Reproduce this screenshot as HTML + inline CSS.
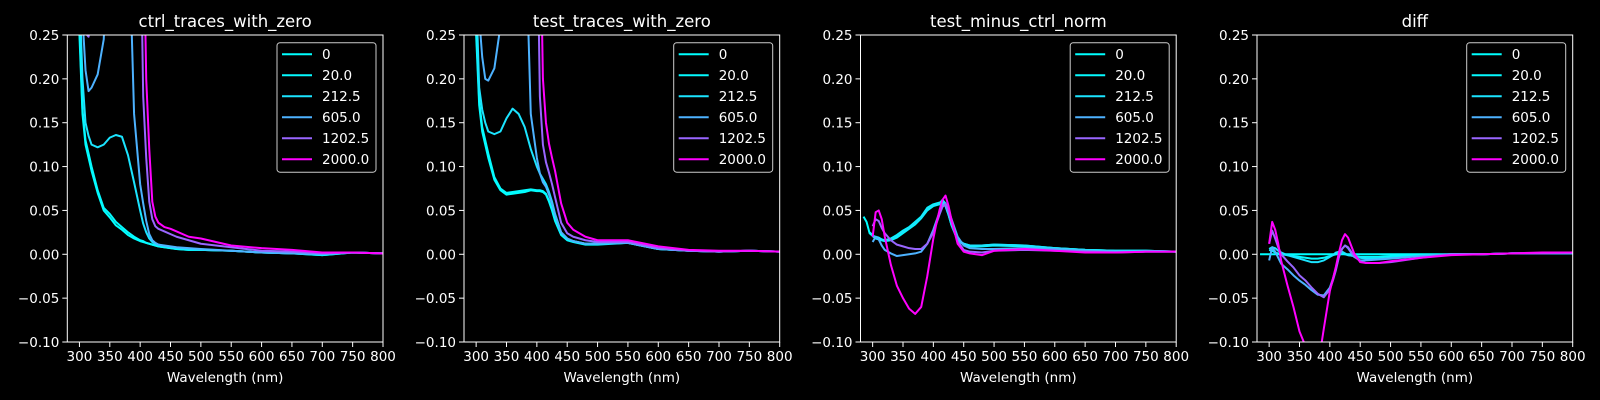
<!DOCTYPE html>
<html><head><meta charset="utf-8">
<style>
html,body{margin:0;padding:0;background:#000;}
svg{display:block;font-family:"DejaVu Sans","Liberation Sans",sans-serif;}
</style></head>
<body>
<svg id="fig" width="1600" height="400" viewBox="0 0 1600 400" xmlns="http://www.w3.org/2000/svg">
<rect width="1600" height="400" fill="#000"/>
</svg>
<script>
const titles = ["ctrl_traces_with_zero","test_traces_with_zero","test_minus_ctrl_norm","diff"];
const seriesLabels = ["0","20.0","212.5","605.0","1202.5","2000.0"];
const seriesColors = ["#00ffff","#05faff","#1be4ff","#4db2ff","#9966ff","#ff00ff"];
const xTicks = [300,350,400,450,500,550,600,650,700,750,800];
const yTicks = [-0.10,-0.05,0.00,0.05,0.10,0.15,0.20,0.25];
const wl = [285,290,295,300,305,310,315,320,330,340,350,360,370,380,390,400,405,410,415,420,425,430,440,450,460,480,500,550,600,650,700,750,800];
const n = null;
const ctrl = [
 [n,0.5,0.4,0.25,0.16,0.125,0.11,0.095,0.07,0.05,0.042,0.033,0.028,0.022,0.018,0.015,0.014,0.013,0.012,0.011,0.010,0.009,0.008,0.007,0.006,0.005,0.005,0.004,0.002,0.001,-0.001,0.002,0.001],
 [n,0.5,0.4,0.26,0.165,0.13,0.115,0.1,0.073,0.053,0.046,0.037,0.031,0.025,0.02,0.016,0.015,0.013,0.012,0.011,0.010,0.009,0.008,0.007,0.006,0.005,0.005,0.004,0.002,0.001,-0.001,0.002,0.001],
 [n,0.5,0.4,0.3,0.2,0.15,0.135,0.125,0.122,0.125,0.133,0.136,0.134,0.113,0.082,0.05,0.035,0.025,0.018,0.014,0.012,0.011,0.009,0.008,0.007,0.006,0.005,0.004,0.002,0.001,0,0.002,0.001],
 [n,0.5,0.4,0.33,0.27,0.21,0.186,0.19,0.205,0.245,0.4,0.4,0.4,0.4,0.16,0.08,0.058,0.038,0.023,0.016,0.013,0.011,0.01,0.009,0.008,0.007,0.006,0.004,0.002,0.001,0,0.002,0.001],
 [n,0.5,0.4,0.4,0.3,0.252,0.248,0.27,0.4,0.4,0.4,0.4,0.4,0.4,0.4,0.4,0.18,0.11,0.06,0.04,0.032,0.029,0.026,0.023,0.02,0.016,0.012,0.008,0.004,0.003,0.001,0.002,0.001],
 [n,0.5,0.4,0.4,0.4,0.4,0.4,0.4,0.4,0.4,0.4,0.4,0.4,0.4,0.4,0.4,0.4,0.2,0.12,0.06,0.043,0.036,0.031,0.029,0.026,0.02,0.018,0.01,0.007,0.005,0.002,0.002,0.001]
];
const test = [
 [n,0.5,0.4,0.25,0.17,0.14,0.125,0.11,0.085,0.073,0.068,0.069,0.07,0.071,0.073,0.072,0.072,0.071,0.068,0.06,0.05,0.038,0.022,0.016,0.014,0.011,0.011,0.013,0.006,0.004,0.003,0.004,0.003],
 [n,0.5,0.4,0.26,0.175,0.145,0.13,0.115,0.088,0.075,0.07,0.071,0.072,0.073,0.074,0.073,0.073,0.072,0.069,0.061,0.051,0.039,0.023,0.017,0.015,0.012,0.012,0.013,0.006,0.004,0.003,0.004,0.003],
 [n,0.5,0.4,0.3,0.19,0.165,0.15,0.14,0.137,0.14,0.155,0.166,0.16,0.145,0.12,0.1,0.092,0.086,0.08,0.071,0.06,0.046,0.025,0.018,0.015,0.012,0.012,0.013,0.006,0.004,0.003,0.004,0.003],
 [n,0.5,0.4,0.35,0.27,0.225,0.2,0.198,0.212,0.26,0.4,0.4,0.4,0.4,0.16,0.11,0.092,0.082,0.077,0.068,0.058,0.045,0.025,0.018,0.015,0.012,0.012,0.013,0.006,0.004,0.003,0.004,0.003],
 [n,0.5,0.4,0.4,0.4,0.4,0.4,0.4,0.4,0.4,0.4,0.4,0.4,0.4,0.4,0.4,0.18,0.125,0.105,0.093,0.08,0.065,0.036,0.024,0.02,0.016,0.014,0.014,0.007,0.004,0.003,0.004,0.003],
 [n,0.5,0.4,0.4,0.4,0.4,0.4,0.4,0.4,0.4,0.4,0.4,0.4,0.4,0.4,0.4,0.4,0.2,0.15,0.126,0.11,0.095,0.058,0.036,0.028,0.02,0.016,0.016,0.009,0.005,0.004,0.004,0.003]
];
const norm = [
 [0.043,0.037,0.024,0.021,0.018,0.017,0.016,0.016,0.018,0.022,0.027,0.031,0.037,0.043,0.053,0.057,0.058,0.059,0.06,0.055,0.045,0.033,0.016,0.012,0.01,0.01,0.011,0.01,0.007,0.005,0.004,0.004,0.003],
 [n,n,0.025,0.022,0.019,0.018,0.016,0.015,0.016,0.019,0.024,0.029,0.034,0.041,0.05,0.055,0.056,0.057,0.058,0.055,0.045,0.033,0.016,0.011,0.009,0.009,0.01,0.009,0.007,0.005,0.004,0.004,0.003],
 [n,n,n,0.02,0.02,0.019,0.017,0.016,0.017,0.021,0.026,0.03,0.036,0.042,0.052,0.056,0.057,0.058,0.062,0.058,0.046,0.034,0.017,0.012,0.01,0.01,0.011,0.01,0.007,0.005,0.004,0.004,0.003],
 [n,n,n,0.014,0.02,0.017,0.01,0.005,0.001,-0.002,-0.001,0,0.001,0.003,0.012,0.028,0.038,0.048,0.056,0.058,0.05,0.04,0.02,0.01,0.007,0.006,0.006,0.007,0.006,0.004,0.003,0.003,0.003],
 [n,n,n,0.032,0.04,0.038,0.03,0.024,0.016,0.011,0.009,0.007,0.006,0.006,0.012,0.025,0.035,0.045,0.054,0.057,0.048,0.036,0.015,0.005,0.003,0.002,0.004,0.005,0.004,0.003,0.002,0.003,0.003],
 [n,n,n,0.02,0.048,0.05,0.04,0.02,-0.012,-0.036,-0.05,-0.062,-0.068,-0.06,-0.025,0.018,0.035,0.05,0.062,0.067,0.055,0.039,0.012,0.003,0.001,-0.001,0.004,0.006,0.004,0.002,0.002,0.003,0.003]
];
const diff = [
 [0,0,0,0,0,0,0,0,0,0,0,0,0,0,0,0,0,0,0,0,0,0,0,0,0,0,0,0,0,0,0.001,0.001,0.001],
 [n,n,n,0.005,0.004,0.002,0.001,0,-0.001,-0.002,-0.003,-0.004,-0.005,-0.005,-0.004,-0.002,-0.001,0,0.001,0.001,0,-0.001,-0.002,-0.003,-0.003,-0.003,-0.002,-0.001,0,0,0.001,0.001,0.001],
 [n,n,n,0.006,0.008,0.007,0.004,0.002,-0.001,-0.003,-0.005,-0.007,-0.009,-0.009,-0.007,-0.003,-0.001,0.002,0.003,0.003,0.001,-0.001,-0.002,-0.004,-0.005,-0.005,-0.004,-0.002,0,0,0.001,0.001,0.001],
 [n,n,n,-0.007,0.008,0.003,-0.004,-0.011,-0.017,-0.024,-0.03,-0.035,-0.041,-0.046,-0.047,-0.038,-0.028,-0.016,-0.002,0.006,0.01,0.007,-0.003,-0.007,-0.007,-0.006,-0.005,-0.002,0,0,0.001,0.001,0.001],
 [n,n,n,0.012,0.027,0.018,0.008,0,-0.008,-0.015,-0.024,-0.03,-0.038,-0.045,-0.049,-0.04,-0.03,-0.018,-0.003,0.006,0.01,0.008,-0.002,-0.008,-0.01,-0.01,-0.009,-0.004,0,0,0.001,0.001,0.002],
 [n,n,n,0.012,0.037,0.028,0.012,-0.008,-0.035,-0.06,-0.088,-0.105,-0.13,-0.13,-0.085,-0.042,-0.028,-0.014,0.002,0.016,0.023,0.019,0.001,-0.009,-0.01,-0.01,-0.008,-0.004,-0.001,0,0.001,0.002,0.002]
];
const panelData = [ctrl, test, norm, diff];

const NS = "http://www.w3.org/2000/svg";
const svg = document.getElementById("fig");
const lefts = [67.3, 464, 860.5, 1257];
const W = 315.7, TOP = 35, BOT = 342;
const XMIN = 280, XMAX = 800, YMIN = -0.1, YMAX = 0.25;
function mk(tag, attrs, parent){ const e=document.createElementNS(NS,tag); for(const k in attrs) e.setAttribute(k,attrs[k]); (parent||svg).appendChild(e); return e; }
function fmt(v){ const s=Math.abs(v).toFixed(2); return (v< -1e-9?"\u2212":"")+s; }

panelData.forEach((series, p) => {
  const L = lefts[p], R = L + W;
  const xs = v => L + (v - XMIN) / (XMAX - XMIN) * W;
  const ys = v => BOT - (v - YMIN) / (YMAX - YMIN) * (BOT - TOP);
  const g = mk("g", {});
  
  
  const cp = mk("clipPath", {id: "clip"+p}, g);
  mk("rect", {x: L, y: TOP, width: W, height: BOT-TOP}, cp);
  const sg = mk("g", {"clip-path": "url(#clip"+p+")"}, g);
  series.forEach((vals, s) => {
    let d = "", pen = false;
    vals.forEach((v, i) => {
      if (v === null) { pen = false; return; }
      d += (pen ? "L" : "M") + xs(wl[i]).toFixed(2) + "," + ys(v).toFixed(2);
      pen = true;
    });
    const path = mk("path", {d: d, fill: "none", stroke: seriesColors[s], "stroke-width": 2, "stroke-linejoin": "round"}, sg);
    
    
  });
  const sp = mk("rect", {x: L, y: TOP, width: W, height: BOT-TOP, fill: "none", stroke: "#fff", "stroke-width": 1}, g);
  
  
  xTicks.forEach(t => {
    const x = xs(t);
    mk("line", {x1: x, x2: x, y1: BOT, y2: BOT+5, stroke: "#fff", "stroke-width": 1}, g);
    const tx = mk("text", {x: x, y: BOT+19, fill: "#fff", "font-size": 13.5, "text-anchor": "middle"}, g);
    tx.textContent = String(t);
    
    
  });
  yTicks.forEach(t => {
    const y = ys(t);
    mk("line", {x1: L-5, x2: L, y1: y, y2: y, stroke: "#fff", "stroke-width": 1}, g);
    const tx = mk("text", {x: L-8, y: y+5, fill: "#fff", "font-size": 13.5, "text-anchor": "end"}, g);
    tx.textContent = fmt(t);
    
    
  });
  const xl = mk("text", {x: L+W/2, y: 382, fill: "#fff", "font-size": 13.5, "text-anchor": "middle"}, g);
  xl.textContent = "Wavelength (nm)";
  
  
  const tt = mk("text", {x: L+W/2, y: 27, fill: "#fff", "font-size": 16.5, "text-anchor": "middle"}, g);
  tt.textContent = titles[p];
  
  
  const lg = mk("g", {}, g);
  
  
  const bw = 99, bx = R - 7 - bw, by = 42.7;
  mk("rect", {x: bx, y: by, width: bw, height: 129.5, rx: 3, fill: "#000", "fill-opacity": 0.8, stroke: "#cccccc", "stroke-width": 1}, lg);
  seriesLabels.forEach((lab, s) => {
    const yy = by + 11.5 + s * 21;
    const ln = mk("line", {x1: bx+5, x2: bx+35, y1: yy, y2: yy, stroke: seriesColors[s], "stroke-width": 2}, lg);
    
    
    const tx = mk("text", {x: bx+45, y: yy+5, fill: "#fff", "font-size": 13.5}, lg);
    tx.textContent = lab;
    
    
  });
});
</script>
</body></html>
